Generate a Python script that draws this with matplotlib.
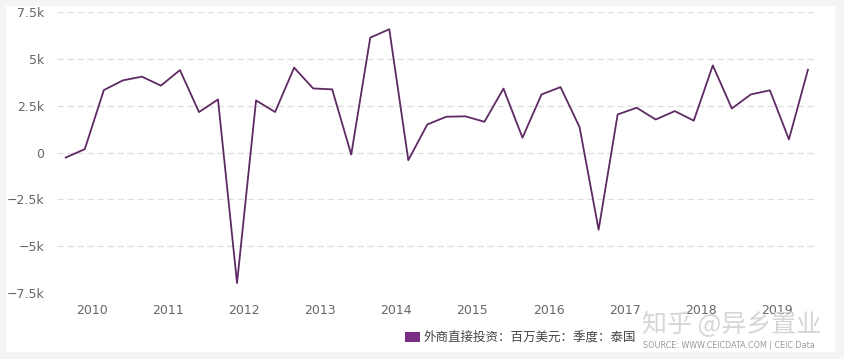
import numpy as np
import matplotlib
matplotlib.use("Agg")
import matplotlib.pyplot as plt
from matplotlib.patches import Rectangle

plt.rcParams['font.family'] = ['Noto Sans CJK SC', 'DejaVu Sans']

# FDI, USD mn, quarterly, Thailand (2009 Q3 .. 2019 Q2), in thousands
fdi = [-0.27, 0.18, 3.33, 3.85, 4.05, 3.57, 4.40, 2.16, 2.83, -6.97,
       2.78, 2.16, 4.53, 3.42, 3.37, -0.11, 6.13, 6.58, -0.41, 1.50,
       1.91, 1.93, 1.64, 3.41, 0.79, 3.10, 3.49, 1.35, -4.12, 2.03,
       2.39, 1.76, 2.21, 1.70, 4.65, 2.35, 3.10, 3.32, 0.70, 4.42]
years = ['2010', '2011', '2012', '2013', '2014', '2015', '2016', '2017', '2018', '2019']
y_ticks = [7.5, 5, 2.5, 0, -2.5, -5, -7.5]
y_labels = ['7.5k', '5k', '2.5k', '0', '−2.5k', '−5k', '−7.5k']
legend_label = '外商直接投资：百万美元：季度：泰国'

W, H = 844, 359
fig = plt.figure(figsize=(W / 100, H / 100), dpi=100)
fig.patch.set_facecolor('#f4f4f4')
fig.patches.append(Rectangle((6 / W, 7 / H), 829 / W, 346 / H,
                             transform=fig.transFigure, facecolor='white',
                             edgecolor='none', zorder=-5))

ax = fig.add_axes([57 / W, (H - 293) / H, (815 - 57) / W, (293 - 12) / H])
ax.set_zorder(2)
ax.set_facecolor('none')

x = np.arange(len(fdi))
ax.plot(x, fdi, color='#5e2a63', linewidth=1.3, zorder=3)

ax.set_ylim(-7.5, 7.5)
ax.set_xlim(-0.46, 39.37)
ax.set_yticks(y_ticks)
ax.set_yticklabels(y_labels, family=['DejaVu Sans'])
ax.set_xticks([1.37 + 4 * i for i in range(len(years))])
ax.set_xticklabels(years, family=['DejaVu Sans'])
ax.tick_params(axis='both', length=0, labelsize=9, colors='#666666')
ax.tick_params(axis='y', pad=9)
ax.tick_params(axis='x', pad=8)
for t in y_ticks:
    ax.axhline(t, color='#dddddd', linewidth=0.9, linestyle=(0, (5, 3)), zorder=1)
for s in ax.spines.values():
    s.set_visible(False)

# legend
fig.patches.append(Rectangle((405 / W, (H - 342) / H), 15 / W, 10 / H,
                             transform=fig.transFigure, facecolor='#7b2e86',
                             edgecolor='none', zorder=3))
fig.text(424 / W, (H - 337) / H, legend_label, fontsize=9, color='#444444',
         va='center', ha='left')

# watermark and source
fig.text(642 / W, (H - 325) / H, '知乎 @异乡置业', fontsize=18, color='#d6d6d6',
         va='center', ha='left')
fig.text(643 / W, (H - 346) / H, 'SOURCE: WWW.CEICDATA.COM | CEIC Data',
         fontsize=5.8, color='#9a9a9a', va='center', ha='left',
         family=['DejaVu Sans'])

fig.savefig('out.png', dpi=100, facecolor=fig.get_facecolor())
